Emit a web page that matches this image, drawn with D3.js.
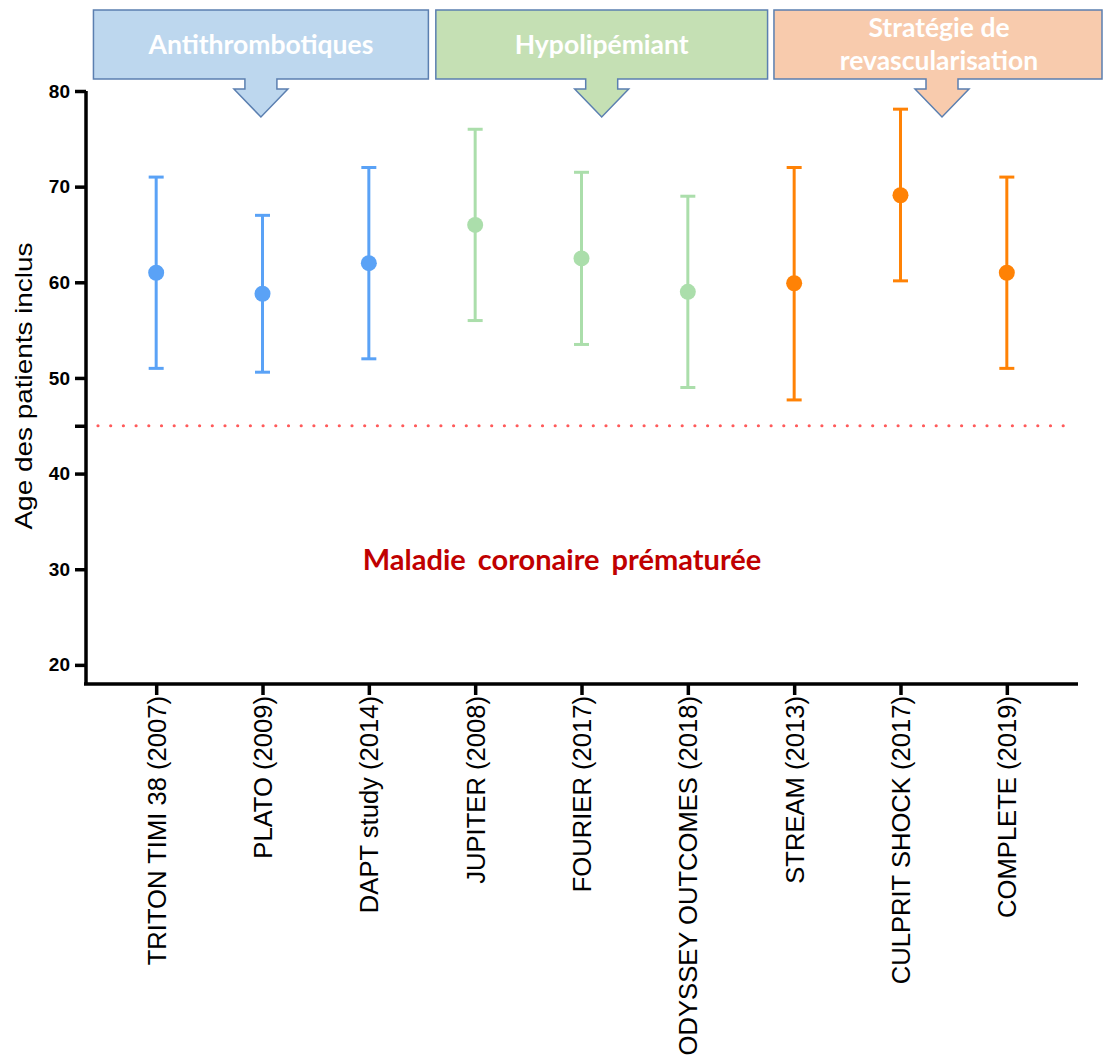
<!DOCTYPE html>
<html><head><meta charset="utf-8">
<script src="https://cdn.jsdelivr.net/npm/d3@7"></script>
<style>body{margin:0;background:#fff}svg{display:block}</style>
</head><body>
<svg id="c" width="1103" height="1061"></svg>
<script>
// ---- data ----
const categories = ["TRITON TIMI 38 (2007)","PLATO (2009)","DAPT study (2014)","JUPITER (2008)","FOURIER (2017)","ODYSSEY OUTCOMES (2018)","STREAM (2013)","CULPRIT SHOCK (2017)","COMPLETE (2019)"];
const means = [61, 58.8, 62, 66, 62.5, 59, 59.9, 69.1, 61];
const lows  = [51, 50.6, 52, 56, 53.5, 49, 47.7, 60.15, 51];
const highs = [71, 67, 72, 76, 71.5, 69, 72, 78.1, 71];
const groupOf = [0,0,0,1,1,1,2,2,2];
const groupNames = [["Antithrombotiques"],["Hypolipémiant"],["Stratégie de","revascularisation"]];
const groupStart = [-0.59, 2.63, 5.81];
const groupEnd = [2.56, 5.75, 8.95];
const yTicks = [20,30,40,50,60,70,80];
const refValue = 45;
const refLabel = "Maladie coronaire prématurée";
const yTitle = "Age des patients inclus";

const pointColors = ["#5aa2f6","#abdeab","#ff8205"];
const boxFill = ["#bdd7ee","#c5e0b4","#f8cbad"];

const svg = d3.select("#c");
const x = d3.scalePoint().domain(categories).range([86,1077]).padding(0.66);
const y = d3.scaleLinear().domain([18,80]).range([684,91]);
const idx = d3.scaleLinear().domain([0,8]).range([x(categories[0]), x(categories[8])]);

// callout boxes
const boxTop = 10, boxBot = 79, stemBot = 89, apex = 117;
groupNames.forEach((lines,i)=>{
  const x0 = idx(groupStart[i]), x1 = Math.min(idx(groupEnd[i]), 1102);
  const cx = (idx(groupStart[i]) + idx(groupEnd[i]))/2;
  const ax = i===2 ? 942 : cx;
  const p = d3.path();
  p.moveTo(x0,boxTop); p.lineTo(x1,boxTop); p.lineTo(x1,boxBot);
  p.lineTo(ax+16,boxBot); p.lineTo(ax+16,stemBot); p.lineTo(ax+27,stemBot);
  p.lineTo(ax,apex); p.lineTo(ax-27,stemBot); p.lineTo(ax-16,stemBot);
  p.lineTo(ax-16,boxBot); p.lineTo(x0,boxBot); p.closePath();
  svg.append("path").attr("d",p.toString()).attr("fill",boxFill[i]).attr("stroke","#5b7fb0").attr("stroke-width",1.5);
  const tx = i===2 ? 939 : cx;
  const baseYs = lines.length===1 ? [54] : [37,70];
  lines.forEach((t,j)=>{
    svg.append("text").attr("x",tx).attr("y",baseYs[j]).attr("text-anchor","middle")
      .attr("font-family","Lato, 'Open Sans', sans-serif").attr("font-weight","bold")
      .attr("font-size",26.5).attr("fill","#ffffff").text(t);
  });
});

// reference dotted line
svg.append("line").attr("x1",98).attr("x2",1072).attr("y1",y(refValue)).attr("y2",y(refValue))
  .attr("stroke","#ff5a5a").attr("stroke-width",3.2).attr("stroke-linecap","round")
  .attr("stroke-dasharray","0 12.7");

svg.append("text").attr("x",562).attr("y",570).attr("text-anchor","middle")
  .attr("font-family","Lato, sans-serif").attr("font-weight","bold").attr("font-size",29)
  .attr("fill","#c00000").attr("word-spacing",5).text(refLabel);

// axes
const yAxis = svg.append("g").attr("transform","translate(86,0)")
  .call(d3.axisLeft(y).tickValues(yTicks.concat([refValue])).tickSize(11).tickPadding(5)
        .tickFormat(d=> yTicks.includes(d) ? d : ""));
yAxis.select(".domain").attr("d",`M0,${y(80)}V${684}`).attr("stroke","#000").attr("stroke-width",3.5);
yAxis.selectAll(".tick line").attr("stroke","#000").attr("stroke-width",3.5);
yAxis.selectAll(".tick text").attr("font-family","'Liberation Sans', Arial, sans-serif")
  .attr("font-weight","bold").attr("font-size",19).attr("fill","#000");

const xAxis = svg.append("g").attr("transform","translate(0,684)")
  .call(d3.axisBottom(x).tickSize(11).tickPadding(0));
xAxis.select(".domain").attr("d","M84,0H1078").attr("stroke","#000").attr("stroke-width",3.5);
xAxis.selectAll(".tick line").attr("stroke","#000").attr("stroke-width",3.5);
xAxis.selectAll(".tick text").attr("font-family","'Liberation Sans', Arial, sans-serif")
  .attr("font-size",25.6).attr("fill","#000")
  .attr("text-anchor","end").attr("dy",null).attr("y",0)
  .attr("transform","translate(9,12) rotate(-90)");

svg.append("text").attr("transform","translate(32,386) rotate(-90)").attr("text-anchor","middle")
  .attr("font-family","'Liberation Sans', Arial, sans-serif").attr("font-size",24).attr("fill","#000")
  .attr("textLength",287).attr("lengthAdjust","spacingAndGlyphs")
  .text(yTitle);

// error bars + points
const g = svg.append("g");
categories.forEach((c,i)=>{
  const col = pointColors[groupOf[i]];
  const cx = x(c);
  g.append("line").attr("x1",cx).attr("x2",cx).attr("y1",y(highs[i])).attr("y2",y(lows[i]))
    .attr("stroke",col).attr("stroke-width",3);
  [highs[i],lows[i]].forEach(v=>{
    g.append("line").attr("x1",cx-7.5).attr("x2",cx+7.5).attr("y1",y(v)).attr("y2",y(v))
      .attr("stroke",col).attr("stroke-width",3);
  });
  g.append("circle").attr("cx",cx).attr("cy",y(means[i])).attr("r",8).attr("fill",col);
});
</script>
</body></html>
